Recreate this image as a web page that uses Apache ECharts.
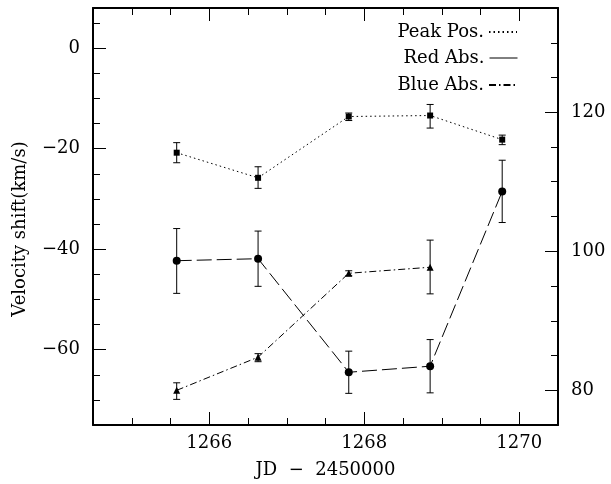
<!DOCTYPE html>
<html>
<head>
<meta charset="utf-8">
<script src="https://cdn.jsdelivr.net/npm/echarts@6/dist/echarts.min.js"></script>
<style>html,body{margin:0;padding:0;background:#fff}#c{width:611px;height:484px}</style>
</head>
<body>
<div id="c"></div>
<script>
// ---- data ----
var seriesNames = ['Peak Pos.', 'Red Abs.', 'Blue Abs.'];
var jd = [1265.58, 1266.63, 1267.80, 1268.85, 1269.78];
var peakVal = [-20.8, -25.8, -13.6, -13.4, -18.2];
var peakLo  = [-22.8, -27.9, -14.4, -15.9, -19.2];
var peakHi  = [-18.8, -23.6, -12.9, -11.2, -17.3];
var redVal = [-42.3, -41.9, -64.5, -63.3, -28.5];
var redLo  = [-48.8, -47.4, -68.7, -68.6, -34.7];
var redHi  = [-35.9, -36.4, -60.3, -58.0, -22.3];
var blueVal = [-68.1, -61.5, -44.8, -43.6];
var blueLo  = [-69.9, -62.4, -45.3, -48.9];
var blueHi  = [-66.6, -60.8, -44.3, -38.2];
var xMajor = [1266, 1268, 1270];
var xMinor = [1265, 1265.5, 1266.5, 1267, 1267.5, 1268.5, 1269, 1269.5, 1264.5, 1270.5];
var yLeftMajor = [-60, -40, -20, 0];
var yLeftMinor = [-75, -70, -65, -55, -50, -45, -35, -30, -25, -15, -10, -5, 5];
var yRightMajor = [80, 100, 120];
var yRightMinor = [75, 85, 90, 95, 105, 110, 115, 125, 130, 135];
var xLabel = 'JD  \u2212  2450000';
var yLabel = 'Velocity shift(km/s)';

// ---- build ----
var FONT = 'DejaVu Serif';
function pairs(xs, ys) { return ys.map(function (v, i) { return [xs[i], v]; }); }
function errs(xs, lo, hi) { return lo.map(function (v, i) { return [xs[i], v, hi[i]]; }); }

function errorRender(params, api) {
  var x = api.value(0);
  var p1 = api.coord([x, api.value(1)]);
  var p2 = api.coord([x, api.value(2)]);
  var cw = 3.5;
  var st = { stroke: '#000', lineWidth: 1 };
  return {
    type: 'group',
    children: [
      { type: 'line', shape: { x1: p1[0], y1: p1[1], x2: p2[0], y2: p2[1] }, style: st },
      { type: 'line', shape: { x1: p1[0] - cw, y1: p1[1], x2: p1[0] + cw, y2: p1[1] }, style: st },
      { type: 'line', shape: { x1: p2[0] - cw, y1: p2[1], x2: p2[0] + cw, y2: p2[1] }, style: st }
    ]
  };
}

var lineC = { color: '#000', width: 2 };
function xAx(pos, major, showLine, showLabel, name) {
  return {
    type: 'value', position: pos, min: 1264.5, max: 1270.5,
    axisLine: { show: showLine, onZero: false, lineStyle: lineC },
    axisTick: { show: true, inside: true, length: major ? 13 : 7, customValues: major ? xMajor : xMinor, lineStyle: { color: '#000', width: 1 } },
    axisLabel: { show: showLabel, customValues: xMajor, margin: 9, fontSize: 18, fontFamily: FONT, color: '#000',
      formatter: function (v) { return String(v); } },
    splitLine: { show: false },
    name: name || '', nameLocation: 'middle', nameGap: 36,
    nameTextStyle: { fontSize: 18, fontFamily: FONT, color: '#000' }
  };
}
function yAx(pos, min, max, majorVals, minorVals, major, showLine, showLabel) {
  return {
    type: 'value', position: pos, min: min, max: max,
    axisLine: { show: showLine, onZero: false, lineStyle: lineC },
    axisTick: { show: true, inside: true, length: major ? 13 : 7, customValues: major ? majorVals : minorVals, lineStyle: { color: '#000', width: 1 } },
    axisLabel: { show: showLabel, customValues: majorVals, margin: 13, fontSize: 18, fontFamily: FONT, color: '#000',
      formatter: function (v) { return v < 0 ? '\u2212' + Math.abs(v) : String(v); } },
    splitLine: { show: false }
  };
}

function legendFor(name, top, lineType) {
  var l = {
    data: [name], right: 93, top: top, orient: 'horizontal', align: 'right', padding: 0,
    itemWidth: 28, itemHeight: 11, selectedMode: false,
    itemStyle: { opacity: 0 },
    textStyle: { fontSize: 18, fontFamily: FONT, color: '#000' }
  };
  if (lineType) l.lineStyle = { type: lineType, width: 1, color: '#000' };
  return l;
}

var option = {
  animation: false,
  backgroundColor: '#fff',
  grid: { left: 93, right: 53, top: 8, bottom: 57 },
  legend: [legendFor(seriesNames[0], 23), legendFor(seriesNames[1], 49, 'solid'), legendFor(seriesNames[2], 76)],
  xAxis: [
    xAx('bottom', true, true, true, xLabel),
    xAx('bottom', false, false, false),
    xAx('top', true, true, false),
    xAx('top', false, false, false)
  ],
  yAxis: [
    yAx('left', -75, 8, yLeftMajor, yLeftMinor, true, true, true),
    yAx('left', -75, 8, yLeftMajor, yLeftMinor, false, false, false),
    yAx('right', 75, 135, yRightMajor, yRightMinor, true, true, true),
    yAx('right', 75, 135, yRightMajor, yRightMinor, false, false, false)
  ],
  graphic: [{
    type: 'text', x: 20, y: 229, rotation: Math.PI / 2,
    style: { text: yLabel, fontSize: 18, fontFamily: FONT, fill: '#000', align: 'center', verticalAlign: 'middle' }
  }],
  series: [
    { type: 'custom', name: 'pe', renderItem: errorRender, data: errs(jd, peakLo, peakHi), encode: { x: 0, y: [1, 2] }, silent: true },
    { type: 'custom', name: 're', renderItem: errorRender, data: errs(jd, redLo, redHi), encode: { x: 0, y: [1, 2] }, silent: true },
    { type: 'custom', name: 'be', renderItem: errorRender, data: errs(jd.slice(0, blueVal.length), blueLo, blueHi), encode: { x: 0, y: [1, 2] }, silent: true },
    { type: 'line', name: seriesNames[0], data: pairs(jd, peakVal), symbol: 'rect', symbolSize: 6,
      itemStyle: { color: '#000' }, lineStyle: { color: '#000', width: 1, type: [1.5, 3] } },
    { type: 'line', name: seriesNames[1], data: pairs(jd, redVal), symbol: 'circle', symbolSize: 8,
      itemStyle: { color: '#000' }, lineStyle: { color: '#000', width: 1, type: [15, 5] } },
    { type: 'line', name: seriesNames[2], data: pairs(jd, blueVal), symbol: 'triangle', symbolSize: 7,
      itemStyle: { color: '#000' }, lineStyle: { color: '#000', width: 1, type: [7, 3, 1.5, 3] } }
  ]
};
var chart = echarts.init(document.getElementById('c'), null, { renderer: 'canvas' });
chart.setOption(option);
</script>
</body>
</html>
